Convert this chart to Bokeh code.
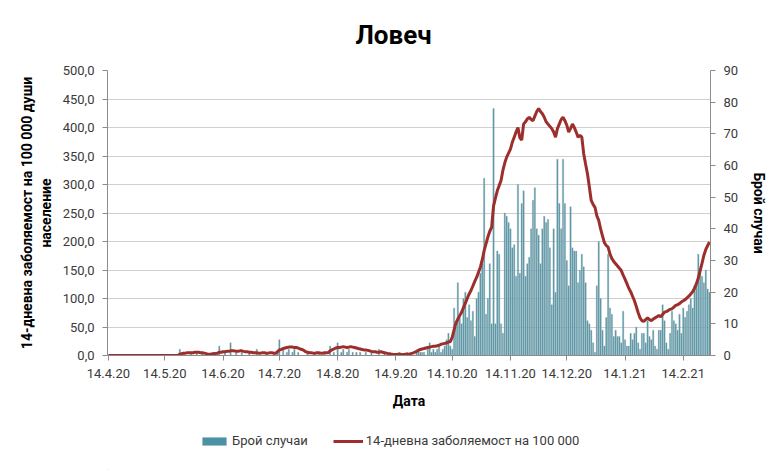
import pandas as pd
from bokeh.plotting import figure
from bokeh.layouts import column
from bokeh.models import (Range1d, LinearAxis, FixedTicker, CustomJSTickFormatter,
                          Legend, LegendItem)
from bokeh.embed import file_html
from bokeh.resources import INLINE

start_date = "2020-04-14"

# daily new cases (right axis)
cases = [
    0, 0, 0, 0, 0, 0, 0, 0, 0, 0,
    0, 0, 0, 0, 0, 0, 0, 0, 0, 0,
    0, 0, 0, 0, 0, 0, 0, 0, 0, 0,
    0, 0, 0, 0, 0, 0, 0, 0, 2, 0,
    1, 0, 0, 0, 1, 0, 0, 1, 0, 0,
    1, 0, 0, 0, 0, 1, 0, 0, 1, 3,
    0, 0, 1, 0, 0, 4, 0, 0, 1, 0,
    0, 1, 0, 0, 0, 1, 0, 0, 0, 2,
    0, 0, 0, 0, 1, 0, 0, 0, 1, 0,
    1, 5, 0, 2, 0, 1, 2, 0, 1, 2,
    0, 1, 0, 0, 0, 0, 1, 0, 0, 0,
    1, 0, 1, 0, 0, 1, 0, 0, 3, 0,
    1, 0, 4, 0, 1, 2, 0, 1, 2, 0,
    1, 0, 1, 0, 1, 0, 0, 1, 0, 0,
    1, 0, 0, 0, 2, 0, 0, 1, 0, 0,
    1, 0, 0, 0, 0, 1, 0, 0, 0, 1,
    0, 0, 0, 0, 1, 2, 1, 1, 1, 0,
    2, 4, 1, 2, 1, 2, 3, 1, 2, 3,
    5, 7, 3, 2, 15, 9, 23, 12, 10, 18,
    20, 12, 16, 11, 14, 6, 18, 20, 26, 29,
    56, 13, 18, 29, 10, 78, 10, 33, 32, 10,
    7, 45, 44, 42, 40, 34, 35, 25, 54, 26,
    48, 52, 25, 29, 31, 40, 49, 53, 40, 38,
    29, 40, 44, 42, 43, 34, 16, 40, 20, 62,
    48, 40, 62, 48, 30, 22, 47, 34, 33, 33,
    23, 27, 32, 28, 23, 11, 10, 8, 4, 1,
    22, 36, 18, 8, 3, 12, 32, 15, 13, 6,
    8, 6, 6, 4, 14, 5, 3, 3, 7, 5,
    7, 9, 4, 2, 7, 7, 4, 11, 6, 5,
    8, 3, 2, 8, 8, 16, 11, 4, 2, 7,
    14, 11, 10, 8, 13, 7, 15, 12, 14, 16,
    18, 15, 22, 23, 32, 27, 25, 23, 27, 21, 20,
]

# 14-day incidence per 100 000 (left axis)
incidence = [
    0, 0, 0, 0, 0, 0, 0, 0, 0, 0,
    0, 0, 0, 0, 0, 0, 0, 0, 0, 0,
    0, 0, 0, 0, 0, 0, 0, 0, 0, 0,
    0, 0, 0, 0, 0, 0, 0, 0, 2.4, 3.3,
    4.1, 4.1, 4.9, 4.9, 4.9, 4.9, 5.7, 5.7, 5.7, 4.9,
    4.9, 4.1, 3.3, 2.4, 2.4, 2.4, 3.3, 3.3, 4.1, 5.7,
    5.7, 6.5, 6.5, 7.3, 7.3, 8.2, 8.2, 8.2, 7.3, 7.3,
    8.2, 8.2, 7.3, 6.5, 6.5, 5.7, 5.7, 4.9, 4.9, 4.9,
    4.1, 4.1, 4.9, 4.9, 4.1, 4.1, 4.9, 4.9, 4.1, 4.1,
    6.5, 9.8, 10.6, 12.2, 13.1, 13.9, 14.7, 14.7, 14.7, 13.9,
    13.9, 13.1, 11.4, 10.6, 9.0, 6.5, 5.7, 4.9, 4.9, 4.1,
    4.1, 4.9, 4.9, 4.1, 4.1, 4.9, 4.9, 4.9, 8.2, 9.8,
    11.4, 13.1, 13.9, 13.9, 14.7, 15.5, 14.7, 13.9, 14.7, 15.5,
    14.7, 13.9, 13.1, 12.2, 11.4, 10.6, 9.8, 9.8, 9.0, 8.2,
    7.3, 6.5, 6.5, 5.7, 5.7, 6.5, 5.7, 4.9, 4.1, 3.3,
    2.4, 2.4, 1.6, 1.6, 2.4, 2.4, 1.6, 1.6, 2.4, 2.4,
    2.4, 3.3, 4.1, 5.7, 7.3, 9.0, 10.6, 11.4, 12.2, 13.1,
    13.9, 14.7, 15.5, 16.3, 16.3, 17.1, 18.0, 19.6, 20.4, 21.2,
    22.0, 23.7, 24.5, 32, 45, 57, 64, 70, 76, 84,
    92, 100, 108, 114, 122, 130, 137, 146, 155, 168,
    184, 196, 208, 218, 225, 262, 276, 289, 298, 307,
    325, 338, 348, 355, 362, 374, 383, 392, 400, 382,
    378, 406, 410, 415, 418, 414, 412, 420, 428, 433,
    428, 424, 418, 410, 406, 402, 398, 392, 383, 398,
    406, 414, 418, 412, 404, 392, 398, 406, 400, 392,
    383, 386, 383, 354, 336, 319, 296, 272, 265, 260,
    245, 237, 222, 210, 198, 193, 190, 178, 170, 165,
    161, 157, 153, 149, 141, 134, 126, 118, 112, 104,
    96, 86, 75, 66, 61, 60, 63, 66, 63, 61,
    64, 66, 68, 70, 68, 72, 76, 77, 79, 81,
    82, 85, 88, 89, 91, 94, 96, 98, 101, 104,
    108, 112, 118, 126, 136, 149, 162, 176, 186, 193, 199,
]

month_ticks = ["2020-04-14", "2020-05-14", "2020-06-14", "2020-07-14", "2020-08-14",
               "2020-09-14", "2020-10-14", "2020-11-14", "2020-12-14", "2021-01-14",
               "2021-02-14"]
left_ticks = [0, 50, 100, 150, 200, 250, 300, 350, 400, 450, 500]
right_ticks = [0, 10, 20, 30, 40, 50, 60, 70, 80, 90]

title_text = "Ловеч"
left_title = "14-дневна заболяемост на 100 000 души\nнаселение"
right_title = "Брой случаи"
x_title = "Дата"
bar_label = "Брой случаи"
line_label = "14-дневна заболяемост на 100 000"

FONT = "Roboto"
BAR_FILL = "#4A93A6"
BAR_LINE = "#9FB0B6"
LINE_COL = "#9C2F2C"
AXIS_COL = "#8C8C8C"
TEXT_COL = "#3A3A3A"

dates = pd.date_range(start_date, periods=len(cases), freq="D")
half_day = pd.Timedelta(hours=12)

p = figure(width=780, height=420, x_axis_type="datetime",
           x_range=Range1d(dates[0] - half_day, dates[-1] + half_day),
           y_range=Range1d(0, 500),
           output_backend="svg", toolbar_location=None,
           min_border_left=107, min_border_right=70,
           min_border_top=70, min_border_bottom=65,
           title=title_text)
p.extra_y_ranges = {"cases": Range1d(0, 90)}
p.background_fill_color = "white"
p.border_fill_color = "white"
p.outline_line_color = None

p.title.align = "left"
p.title.offset = 248
p.title.standoff = 38
p.title.vertical_align = "top"
p.title.text_font = FONT
p.title.text_font_size = "26px"
p.title.text_font_style = "bold"
p.title.text_color = "black"

bar_style = dict(fill_color=BAR_FILL, line_color=BAR_LINE, line_width=0.4)
line_style = dict(line_color=LINE_COL, line_width=3)

bars = p.vbar(x=dates, top=cases, width=0.72 * 86400000, bottom=0,
              y_range_name="cases", **bar_style)
line = p.line(dates, incidence, **line_style)

# x axis
xa = p.xaxis[0]
xa.ticker = FixedTicker(ticks=[pd.Timestamp(t).value // 10**6 for t in month_ticks])
xa.formatter = CustomJSTickFormatter(code="""
const d = new Date(tick);
return d.getUTCDate() + "." + (d.getUTCMonth() + 1) + "." + String(d.getUTCFullYear()).slice(2);
""")
xa.axis_label = x_title

# left axis
ya = p.yaxis[0]
ya.ticker = FixedTicker(ticks=left_ticks)
ya.formatter = CustomJSTickFormatter(code='return tick.toFixed(1).replace(".", ",");')
ya.axis_label = left_title

# right axis
ra = LinearAxis(y_range_name="cases", ticker=FixedTicker(ticks=right_ticks),
                axis_label=right_title)
p.add_layout(ra, "right")

for ax in [xa, ya, ra]:
    ax.axis_line_color = AXIS_COL
    ax.major_tick_line_color = AXIS_COL
    ax.major_tick_in = 0
    ax.major_tick_out = 5
    ax.minor_tick_line_color = None
    ax.major_label_text_font = FONT
    ax.major_label_text_font_size = "13px"
    ax.major_label_text_color = TEXT_COL
    ax.axis_label_text_font = FONT
    ax.axis_label_text_font_size = "14px"
    ax.axis_label_text_font_style = "bold"
    ax.axis_label_text_color = "black"
    ax.major_label_standoff = 8

xa.axis_label_standoff = 12
ya.axis_label_standoff = 6
ra.axis_label_standoff = 10

p.xgrid.visible = False
p.ygrid.grid_line_color = "#CFCFCF"
p.ygrid.ticker = FixedTicker(ticks=left_ticks)

# legend strip below the chart (its frame is aligned with the chart frame)
leg = figure(width=780, height=50, x_range=Range1d(0, 600), y_range=Range1d(0, 50),
             output_backend="svg", toolbar_location=None,
             min_border_left=0, min_border_right=0, min_border_top=0, min_border_bottom=0,
             x_axis_location=None, y_axis_location=None)
leg.outline_line_color = None
leg.xgrid.visible = False
leg.ygrid.visible = False
leg.background_fill_color = "white"
leg.border_fill_color = "white"
lb = leg.vbar(x=[-500], top=[1], width=1, **bar_style)
ll = leg.line(x=[-500, -499], y=[1, 1], **line_style)

legend = Legend(items=[LegendItem(label=bar_label, renderers=[lb]),
                       LegendItem(label=line_label, renderers=[ll])],
                orientation="horizontal", location=(92, 22), margin=0,
                padding=0, spacing=25, label_standoff=3,
                glyph_width=30, glyph_height=10,
                border_line_color=None, background_fill_alpha=0,
                label_text_font=FONT, label_text_font_size="13px",
                label_text_color=TEXT_COL)
leg.add_layout(legend)

layout = column(p, leg, spacing=0)
open("out.html", "w").write(file_html(layout, INLINE))
